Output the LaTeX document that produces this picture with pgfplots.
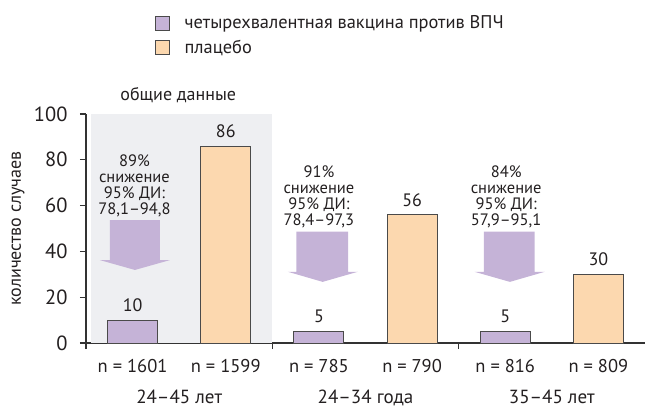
\documentclass[border=0pt]{standalone}
\usepackage{fontspec}
\setmainfont{PT Sans}
\usepackage{pgfplots}
\pgfplotsset{compat=1.18}
\definecolor{vacc}{HTML}{C5B3D7}
\definecolor{plac}{HTML}{FCD8AF}
\definecolor{bgg}{HTML}{EEEFF2}
\definecolor{edge}{HTML}{4A4A4A}
\definecolor{txt}{HTML}{231F20}
\definecolor{axl}{HTML}{333333}
\begin{document}
\begin{tikzpicture}
\begin{axis}[
  name=ax,
  scale only axis, width=559pt, height=229pt,
  xmin=-0.5, xmax=5.5, ymin=0, ymax=100,
  clip=false,
  axis x line=bottom, axis y line=left,
  axis line style={-, draw=axl, line width=1.2pt},
  ytick={0,20,...,100},
  xtick={0,...,5},
  xticklabels={n = 1601, n = 1599, n = 785, n = 790, n = 816, n = 809},
  xtick style={draw=none},
  extra x ticks={-0.5,1.5,3.5},
  extra x tick labels={},
  extra x tick style={xtick style={draw=axl, line width=1.2pt}},
  ytick style={draw=axl, line width=1.2pt},
  major tick length=6pt, tick align=outside,
  /pgf/number format/assume math mode=true,
  yticklabel style={font=\fontsize{20.5}{22}\selectfont, text=txt, xshift=-9pt},
  xticklabel style={font=\fontsize{18.5}{22}\selectfont, text=txt, yshift=-7pt},
  ylabel={количество случаев},
  ylabel style={at={(axis description cs:-0.1216,0.5)}, anchor=center, font=\fontsize{18}{20}\selectfont, text=txt},
  legend style={at={(axis description cs:0.1234,1.438)}, anchor=north west, draw=none, fill=none,
    font=\fontsize{18.4}{22}\selectfont, text=txt, row sep=6pt, inner sep=0pt},
  legend cell align=left,
]
% grey background for overall data
\addplot[fill=bgg, draw=none, forget plot] coordinates {(-0.45,0) (-0.45,100) (1.5,100) (1.5,0)};
% arrows
\addplot[fill=vacc, draw=none, forget plot] coordinates {(-0.243,53.7) (-0.243,36.2) (-0.35,36.2) (0.025,31.9) (0.40,36.2) (0.293,36.2) (0.293,53.7)};
\addplot[fill=vacc, draw=none, forget plot] coordinates {(1.759,48.6) (1.759,31.1) (1.667,31.1) (2.04,26.7) (2.417,31.1) (2.313,31.1) (2.313,48.6)};
\addplot[fill=vacc, draw=none, forget plot] coordinates {(3.77,48.6) (3.77,31.1) (3.67,31.1) (4.05,26.7) (4.424,31.1) (4.316,31.1) (4.316,48.6)};
% bars
\addplot[ybar, bar width=50pt, bar shift=0pt, fill=vacc, draw=edge, line width=0.9pt,
  legend image code/.code={\draw[fill=vacc, draw=edge, line width=0.8pt] (0pt,-7pt) rectangle (14pt,7pt); \path[draw=none, fill=none] (14pt,0pt) -- (27pt,0pt);},
  nodes near coords, every node near coord/.style={font=\fontsize{18}{20}\selectfont, text=txt, anchor=south, inner sep=0pt, yshift=8pt}]
  coordinates {(0,10) (2,5) (4,5)};
\addlegendentry{четырехвалентная вакцина против ВПЧ}
\addplot[ybar, bar width=50pt, bar shift=0pt, fill=plac, draw=edge, line width=0.9pt,
  legend image code/.code={\draw[fill=plac, draw=edge, line width=0.8pt] (0pt,-7pt) rectangle (14pt,7pt); \path[draw=none, fill=none] (14pt,0pt) -- (27pt,0pt);},
  nodes near coords, every node near coord/.style={font=\fontsize{18}{20}\selectfont, text=txt, anchor=south, inner sep=0pt, yshift=8pt}]
  coordinates {(1,86) (3,56) (5,30)};
\addlegendentry{плацебо}
% annotations
\node[anchor=north, align=center, font=\fontsize{16.5}{16}\selectfont, text=txt, inner sep=0pt] at (axis cs:0.02,82.5) {89\%\\снижение\\95\% ДИ:\\78,1–94,8};
\node[anchor=north, align=center, font=\fontsize{16.5}{16}\selectfont, text=txt, inner sep=0pt] at (axis cs:2.0,77.7) {91\%\\снижение\\95\% ДИ:\\78,4–97,3};
\node[anchor=north, align=center, font=\fontsize{16.5}{16}\selectfont, text=txt, inner sep=0pt] at (axis cs:4.01,77.7) {84\%\\снижение\\95\% ДИ:\\57,9–95,1};
\node[anchor=base, font=\fontsize{18}{20}\selectfont, text=txt, inner sep=0pt, yshift=14pt] at (axis cs:0.49,100) {общие данные};
\node[anchor=base, font=\fontsize{19}{22}\selectfont, text=txt, inner sep=0pt, yshift=-60pt] at (axis cs:0.5,0) {24–45 лет};
\node[anchor=base, font=\fontsize{19}{22}\selectfont, text=txt, inner sep=0pt, yshift=-60pt] at (axis cs:2.5,0) {24–34 года};
\node[anchor=base, font=\fontsize{19}{22}\selectfont, text=txt, inner sep=0pt, yshift=-60pt] at (axis cs:4.5,0) {35–45 лет};
\end{axis}
\pgfresetboundingbox
\path ([xshift=-86pt,yshift=-65pt]ax.south west) rectangle ([yshift=114pt]ax.north east);
\end{tikzpicture}
\end{document}
